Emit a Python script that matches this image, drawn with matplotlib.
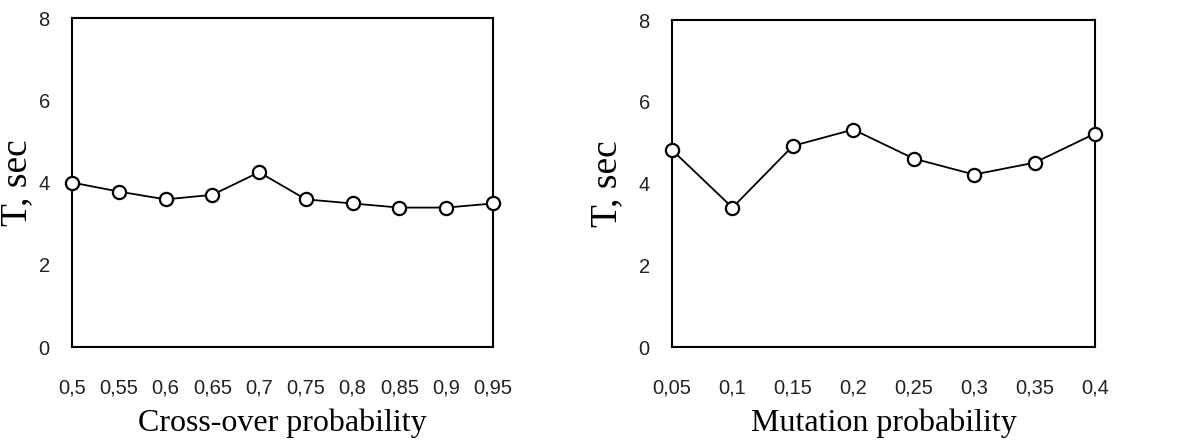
import matplotlib.pyplot as plt

crossover_p = [0.5, 0.55, 0.6, 0.65, 0.7, 0.75, 0.8, 0.85, 0.9, 0.95]
crossover_labels = ['0,5', '0,55', '0,6', '0,65', '0,7', '0,75', '0,8', '0,85', '0,9', '0,95']
crossover_t = [4.0, 3.78, 3.59, 3.70, 4.25, 3.59, 3.49, 3.39, 3.39, 3.49]

mutation_p = [0.05, 0.1, 0.15, 0.2, 0.25, 0.3, 0.35, 0.4]
mutation_labels = ['0,05', '0,1', '0,15', '0,2', '0,25', '0,3', '0,35', '0,4']
mutation_t = [4.82, 3.41, 4.92, 5.32, 4.61, 4.22, 4.51, 5.22]

y_ticks = [0, 2, 4, 6, 8]

plt.rcParams['font.family'] = 'Liberation Sans'

fig = plt.figure(figsize=(11.84, 4.47), dpi=100)
ax1 = fig.add_axes([0.0608, 0.2237, 0.3556, 0.736])
ax2 = fig.add_axes([0.5676, 0.2237, 0.3572, 0.7315])

panels = [
    (ax1, crossover_p, crossover_labels, crossover_t, 'Cross-over probability', -0.09),
    (ax2, mutation_p, mutation_labels, mutation_t, 'Mutation probability', -0.113),
]

for ax, xs, xlabels, ys, xlabel, ylab_x in panels:
    ax.plot(xs, ys, color='black', linewidth=1.3, marker='o', markersize=9.5,
            markerfacecolor='white', markeredgecolor='black', markeredgewidth=1.6,
            clip_on=False, zorder=3)
    ax.set_xlim(xs[0], xs[-1])
    ax.set_ylim(0, 8)
    ax.set_xticks(xs)
    ax.set_xticklabels(xlabels, fontsize=14.5, color='#222222')
    ax.set_yticks(y_ticks)
    ax.set_yticklabels([str(v) for v in y_ticks], fontsize=14.5, color='#222222')
    ax.tick_params(length=0, axis='x', pad=23)
    ax.tick_params(length=0, axis='y', pad=16)
    for s in ax.spines.values():
        s.set_linewidth(1.5)
    ax.set_xlabel(xlabel, family='Liberation Serif', fontsize=23)
    ax.xaxis.set_label_coords(0.5, -0.187)
    ax.set_ylabel('T, sec', family='Liberation Serif', fontsize=27)
    ax.yaxis.set_label_coords(ylab_x, 0.5)

fig.savefig('out.png', dpi=100)
